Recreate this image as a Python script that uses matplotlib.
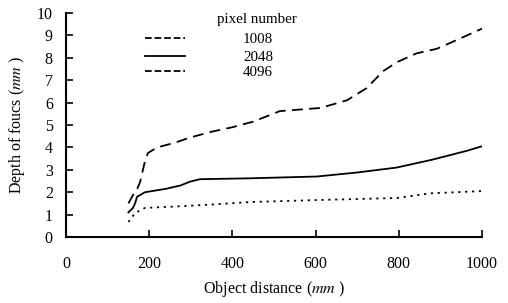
import matplotlib.pyplot as plt

plt.rcParams['font.family'] = ['Liberation Serif', 'DejaVu Serif']
plt.rcParams['mathtext.fontset'] = 'stix'

# pixel number 1008
x1008 = [150, 161, 168, 178, 190, 197, 219, 260, 300, 350, 400, 450, 514, 611, 675, 723, 762, 795, 843, 891, 940, 1000]
y1008 = [1.5, 1.87, 2.0, 2.45, 3.4, 3.75, 4.0, 4.2, 4.45, 4.7, 4.9, 5.15, 5.62, 5.76, 6.1, 6.65, 7.4, 7.8, 8.2, 8.4, 8.8, 9.3]

# pixel number 2048
x2048 = [150, 161, 166, 171, 190, 240, 275, 298, 322, 442, 603, 700, 795, 880, 964, 1000]
y2048 = [1.1, 1.3, 1.5, 1.8, 2.0, 2.15, 2.3, 2.47, 2.58, 2.62, 2.7, 2.88, 3.1, 3.45, 3.85, 4.05]

# pixel number 4096
x4096 = [150, 166, 190, 250, 322, 394, 442, 603, 795, 875, 1000]
y4096 = [0.67, 1.07, 1.3, 1.35, 1.42, 1.5, 1.56, 1.65, 1.74, 1.95, 2.05]

labels = ['1008', '2048', '4096']

fig = plt.figure(figsize=(5.08, 3.03), dpi=100)
ax = fig.add_axes([66/508, 1 - 237/303, (482-66)/508, (237-13)/303])

l1, = ax.plot(x1008, y1008, color='black', lw=1.3, linestyle=(0, (6, 3.5)))
l2, = ax.plot(x2048, y2048, color='black', lw=1.3, linestyle='-')
l3, = ax.plot(x4096, y4096, color='black', lw=1.3, linestyle=(0, (1.2, 2.6)))

ax.set_xlim(0, 1000)
ax.set_ylim(0, 10)
ax.set_xticks(range(0, 1001, 200))
ax.set_yticks(range(0, 11))
for s in ['top', 'right']:
    ax.spines[s].set_visible(False)
for s in ['left', 'bottom']:
    ax.spines[s].set_linewidth(1.5)
ax.tick_params(direction='in', length=5, width=1.2, labelsize=11.5)
ax.tick_params(axis='x', pad=13.5)
ax.tick_params(axis='y', pad=9.5)

ax.set_xlabel('Object distance ($mm$ )', fontsize=11.5, labelpad=5)
ax.set_ylabel('Depth of foucs ($mm$ )', fontsize=11.5, labelpad=7)

# manual legend
lx0, lx1 = (145-66)/416, (185-66)/416
ax.text((257-66)/416, (237-20)/224, 'pixel number', transform=ax.transAxes,
        ha='center', va='center', fontsize=10.8)
for line, lab, py in zip([l1, l2, l3], labels, [38, 56, 71]):
    yy = (237-py)/224
    ax.plot([lx0, lx1], [yy, yy], transform=ax.transAxes, color='black',
            lw=1.3, linestyle=line.get_linestyle())
    ax.text((258-66)/416, yy - 0.005, lab, transform=ax.transAxes,
            ha='center', va='center', fontsize=10.8)

fig.savefig('out.png', dpi=100)
